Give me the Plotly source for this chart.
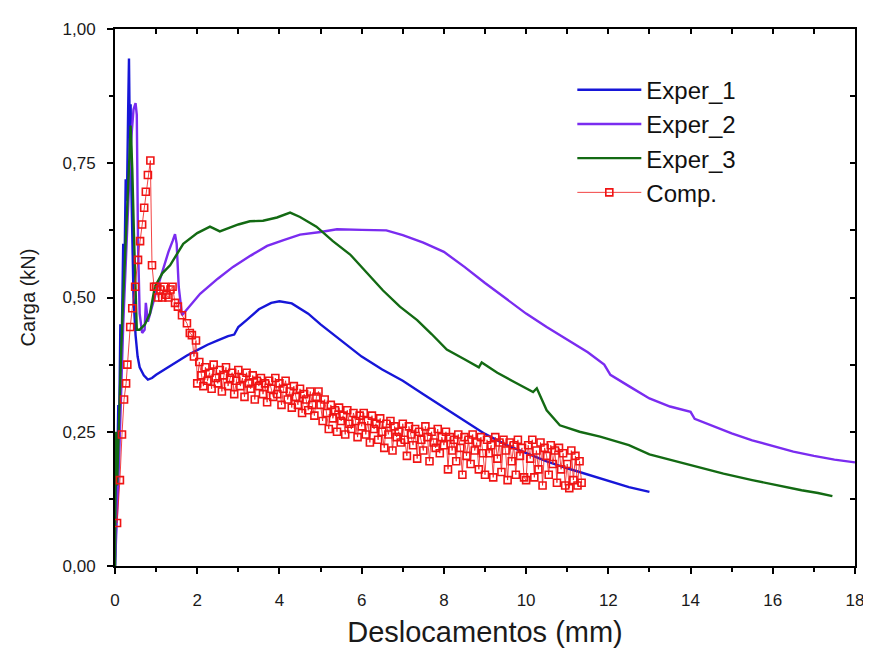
import plotly.graph_objects as go

# Exper_1 (azul)
exp1_x = [0, 0.04, 0.08, 0.10, 0.13, 0.16, 0.20, 0.23, 0.26, 0.29, 0.32, 0.34, 0.36, 0.38, 0.40, 0.42,
          0.45, 0.50, 0.55, 0.60, 0.70, 0.80, 0.90, 1.0, 1.25, 1.5, 1.75, 2.0, 2.25, 2.5, 2.75, 2.9,
          3.0, 3.2, 3.5, 3.8, 4.0, 4.3, 4.7, 5.0, 5.5, 6.0, 6.5, 7.0, 7.5, 8.0, 8.5, 9.0, 9.5,
          10.0, 10.5, 11.0, 11.5, 12.0, 12.5, 13.0]
exp1_y = [0, 0.12, 0.30, 0.25, 0.45, 0.40, 0.60, 0.55, 0.72, 0.68, 0.85, 0.945, 0.80, 0.86, 0.70, 0.60,
          0.50, 0.43, 0.39, 0.37, 0.355, 0.347, 0.350, 0.356, 0.368, 0.380, 0.392, 0.402, 0.412, 0.420, 0.428, 0.431,
          0.445, 0.458, 0.478, 0.490, 0.493, 0.489, 0.470, 0.450, 0.420, 0.390, 0.366, 0.345, 0.320, 0.295, 0.270,
          0.246, 0.226, 0.210, 0.195, 0.182, 0.170, 0.158, 0.147, 0.138]

# Exper_2 (violeta)
exp2_x = [0, 0.10, 0.20, 0.30, 0.38, 0.45, 0.50, 0.53, 0.56, 0.60, 0.66, 0.72, 0.75, 0.80, 0.90, 1.0,
          1.1, 1.2, 1.3, 1.4, 1.46, 1.50, 1.55, 1.63, 1.8, 2.07, 2.5, 2.87, 3.3, 3.7, 4.1, 4.5,
          5.0, 5.4, 6.0, 6.6, 7.0, 7.5, 8.0, 8.5, 9.0, 9.5, 10.0, 10.5, 11.0, 11.5, 11.9, 12.05,
          12.5, 13.0, 13.5, 14.0, 14.1, 14.5, 15.0, 15.5, 16.0, 16.5, 17.0, 17.5, 18.0]
exp2_y = [0, 0.20, 0.45, 0.65, 0.78, 0.85, 0.862, 0.84, 0.60, 0.47, 0.434, 0.44, 0.49, 0.455, 0.485, 0.51,
          0.535, 0.56, 0.585, 0.605, 0.618, 0.60, 0.52, 0.467, 0.483, 0.507, 0.535, 0.557, 0.578, 0.596, 0.607, 0.617,
          0.622, 0.627, 0.626, 0.625, 0.616, 0.602, 0.585, 0.557, 0.527, 0.498, 0.470, 0.445, 0.421, 0.398, 0.375, 0.356,
          0.335, 0.312, 0.297, 0.287, 0.274, 0.262, 0.247, 0.234, 0.223, 0.213, 0.205, 0.198, 0.193]

# Exper_3 (verde)
exp3_x = [0, 0.02, 0.05, 0.10, 0.15, 0.20, 0.25, 0.30, 0.35, 0.38, 0.42, 0.46, 0.50, 0.53, 0.60, 0.73,
          0.85, 0.97, 1.15, 1.34, 1.66, 2.0, 2.31, 2.55, 3.0, 3.28, 3.6, 3.94, 4.26, 4.5, 4.9, 5.3,
          5.72, 6.1, 6.52, 6.93, 7.35, 7.7, 8.07, 8.5, 8.85, 8.92, 9.3, 9.7, 10.17, 10.26, 10.5, 10.82,
          11.3, 11.8, 12.5, 13.0, 13.5, 14.23, 14.8, 15.5, 16.0, 16.7, 17.1, 17.45]
exp3_y = [0, 0.25, 0.15, 0.30, 0.40, 0.50, 0.58, 0.66, 0.76, 0.82, 0.74, 0.62, 0.50, 0.44, 0.44, 0.45,
          0.47, 0.52, 0.545, 0.56, 0.60, 0.62, 0.632, 0.623, 0.636, 0.642, 0.643, 0.649, 0.658, 0.650, 0.632, 0.605,
          0.580, 0.548, 0.513, 0.483, 0.458, 0.432, 0.403, 0.385, 0.370, 0.379, 0.360, 0.343, 0.324, 0.331, 0.290, 0.262,
          0.250, 0.241, 0.225, 0.208, 0.198, 0.182, 0.172, 0.160, 0.152, 0.141, 0.136, 0.130]

# Comp. (vermelho, simbolos)
comp_x = [0.05, 0.12, 0.17, 0.22, 0.27, 0.30, 0.37, 0.42, 0.49, 0.56, 0.61, 0.66, 0.71, 0.75, 0.80, 0.86,
          0.90, 0.95, 1.00, 1.05, 1.10, 1.15, 1.20, 1.25, 1.30, 1.35, 1.40, 1.46, 1.53, 1.63, 1.75, 1.82,
          1.87, 1.92, 1.97,
          2.00, 2.05, 2.10, 2.15, 2.20, 2.25, 2.30, 2.35, 2.40, 2.45, 2.50, 2.55, 2.60, 2.65, 2.70, 2.75, 2.80, 2.85, 2.90, 2.95,
          3.00, 3.05, 3.10, 3.15, 3.20, 3.25, 3.30, 3.35, 3.40, 3.45, 3.50, 3.55, 3.60, 3.65, 3.70, 3.75, 3.80, 3.85, 3.90, 3.95,
          4.00, 4.05, 4.10, 4.15, 4.20, 4.25, 4.30, 4.35, 4.40, 4.45, 4.50, 4.55, 4.60, 4.65, 4.70, 4.75, 4.80, 4.85, 4.90, 4.95,
          5.00, 5.05, 5.10, 5.15, 5.20, 5.25, 5.30, 5.35, 5.40, 5.45, 5.50, 5.55, 5.60, 5.65, 5.70, 5.75, 5.80, 5.85, 5.90, 5.95,
          6.00, 6.05, 6.10, 6.15, 6.20, 6.25, 6.30, 6.35, 6.40, 6.45, 6.50, 6.55, 6.60, 6.65, 6.70, 6.75, 6.80, 6.85, 6.90, 6.95,
          7.00, 7.05, 7.10, 7.15, 7.20, 7.25, 7.30, 7.35, 7.40, 7.45, 7.50, 7.55, 7.60, 7.65, 7.70, 7.75, 7.80, 7.85, 7.90, 7.95,
          8.00, 8.05, 8.10, 8.15, 8.20, 8.25, 8.30, 8.35, 8.40, 8.45, 8.50, 8.55, 8.60, 8.65, 8.70, 8.75, 8.80, 8.85, 8.90, 8.95,
          9.00, 9.05, 9.10, 9.15, 9.20, 9.25, 9.30, 9.35, 9.40, 9.45, 9.50, 9.55, 9.60, 9.65, 9.70, 9.75, 9.80, 9.85, 9.90, 9.95,
          10.00, 10.05, 10.10, 10.15, 10.20, 10.25, 10.30, 10.35, 10.40, 10.45, 10.50, 10.55, 10.60, 10.65, 10.70, 10.75, 10.80, 10.85, 10.90, 10.95,
          11.00, 11.05, 11.10, 11.15, 11.20, 11.25, 11.30, 11.35]
comp_y = [0.08, 0.16, 0.245, 0.31, 0.34, 0.375, 0.445, 0.48, 0.52, 0.57, 0.605, 0.636, 0.667, 0.697, 0.728, 0.755,
          0.56, 0.52, 0.52, 0.50, 0.515, 0.50, 0.52, 0.505, 0.50, 0.515, 0.52, 0.49, 0.483, 0.467, 0.452, 0.434,
          0.43, 0.39, 0.42,
          0.34, 0.38, 0.355, 0.335, 0.37, 0.345, 0.36, 0.33, 0.375, 0.35, 0.34, 0.365, 0.325, 0.355, 0.37, 0.335, 0.35, 0.36, 0.32, 0.345,
          0.365, 0.335, 0.35, 0.315, 0.36, 0.34, 0.33, 0.355, 0.31, 0.345, 0.335, 0.35, 0.32, 0.34, 0.305, 0.345, 0.33, 0.315, 0.35, 0.32,
          0.34, 0.30, 0.33, 0.345, 0.31, 0.325, 0.295, 0.335, 0.315, 0.30, 0.33, 0.285, 0.32, 0.31, 0.29, 0.325, 0.30, 0.28, 0.315, 0.325,
          0.30, 0.27, 0.31, 0.285, 0.255, 0.30, 0.275, 0.29, 0.25, 0.295, 0.27, 0.28, 0.245, 0.29, 0.265, 0.255, 0.285, 0.27, 0.24, 0.28,
          0.26, 0.285, 0.245, 0.27, 0.23, 0.28, 0.255, 0.265, 0.235, 0.275, 0.25, 0.22, 0.265, 0.245, 0.27, 0.215, 0.26, 0.24, 0.25, 0.23,
          0.265, 0.235, 0.205, 0.26, 0.245, 0.225, 0.255, 0.20, 0.25, 0.235, 0.215, 0.26, 0.24, 0.195, 0.25, 0.23, 0.22, 0.255, 0.21, 0.24,
          0.225, 0.25, 0.18, 0.24, 0.215, 0.235, 0.195, 0.245, 0.22, 0.17, 0.24, 0.205, 0.235, 0.19, 0.245, 0.215, 0.23, 0.18, 0.24, 0.21,
          0.17, 0.235, 0.21, 0.225, 0.165, 0.24, 0.20, 0.23, 0.175, 0.235, 0.215, 0.16, 0.23, 0.195, 0.225, 0.17, 0.235, 0.205, 0.22, 0.165,
          0.16, 0.225, 0.20, 0.235, 0.165, 0.215, 0.18, 0.23, 0.15, 0.22, 0.205, 0.17, 0.225, 0.19, 0.215, 0.155, 0.22, 0.18, 0.21, 0.15,
          0.19, 0.145, 0.215, 0.16, 0.205, 0.15, 0.195, 0.155]

x_ticks = [0, 2, 4, 6, 8, 10, 12, 14, 16, 18]
y_ticks = [0, 0.25, 0.5, 0.75, 1.0]

fig = go.Figure()
fig.add_trace(go.Scatter(x=exp1_x, y=exp1_y, mode="lines", name="Exper_1",
                         line=dict(color="#1616d8", width=2.4)))
fig.add_trace(go.Scatter(x=exp2_x, y=exp2_y, mode="lines", name="Exper_2",
                         line=dict(color="#7a2cf0", width=2.4)))
fig.add_trace(go.Scatter(x=exp3_x, y=exp3_y, mode="lines", name="Exper_3",
                         line=dict(color="#136a13", width=2.4)))
fig.add_trace(go.Scatter(x=comp_x, y=comp_y, mode="lines+markers", name="Comp.",
                         line=dict(color="#f01414", width=0.8),
                         marker=dict(symbol="square-open", size=7, color="#f01414",
                                     line=dict(width=1.6))))
# eixos espelhados (topo / direita) com ticks para dentro
fig.add_trace(go.Scatter(x=[None], y=[None], xaxis="x2", yaxis="y2", showlegend=False,
                         hoverinfo="skip"))

font = "Liberation Sans, Arial, sans-serif"
fig.update_layout(
    width=871, height=655,
    margin=dict(l=107, r=24, t=14, b=97),
    paper_bgcolor="white", plot_bgcolor="white",
    separators=",.",
    font=dict(family=font, color="#1a1a1a"),
    showlegend=True,
    legend=dict(x=0.618, y=0.928, xanchor="left", yanchor="top",
                font=dict(size=24, color="#111"), bgcolor="rgba(0,0,0,0)",
                tracegroupgap=0, itemwidth=64),
    xaxis=dict(range=[0, 18], tickvals=x_ticks, ticks="outside", ticklen=6, tickwidth=2,
               tickcolor="black", showline=True, linewidth=2, linecolor="black",
               showgrid=False, zeroline=False, tickfont=dict(size=17), ticklabelstandoff=12,
               minor=dict(dtick=1, ticks="outside", ticklen=4, tickwidth=2, tickcolor="black"),
               title=dict(text="Deslocamentos (mm)", font=dict(size=29), standoff=12)),
    yaxis=dict(range=[0, 1], tickvals=y_ticks, tickformat=".2f", ticks="outside", ticklen=6,
               tickwidth=2, tickcolor="black", showline=True, linewidth=2, linecolor="black",
               showgrid=False, zeroline=False, tickfont=dict(size=17), ticklabelstandoff=8,
               minor=dict(dtick=0.125, ticks="outside", ticklen=4, tickwidth=2, tickcolor="black"),
               title=dict(text="Carga (kN)", font=dict(size=20), standoff=22)),
    xaxis2=dict(overlaying="x", side="top", range=[0, 18], dtick=1, ticks="inside", ticklen=5,
                tickwidth=2, tickcolor="black", showline=True, linewidth=2, linecolor="black",
                showticklabels=False, showgrid=False, zeroline=False),
    yaxis2=dict(overlaying="y", side="right", range=[0, 1], dtick=0.125, ticks="inside", ticklen=5,
                tickwidth=2, tickcolor="black", showline=True, linewidth=2, linecolor="black",
                showticklabels=False, showgrid=False, zeroline=False),
)

fig.write_html("out.html")
